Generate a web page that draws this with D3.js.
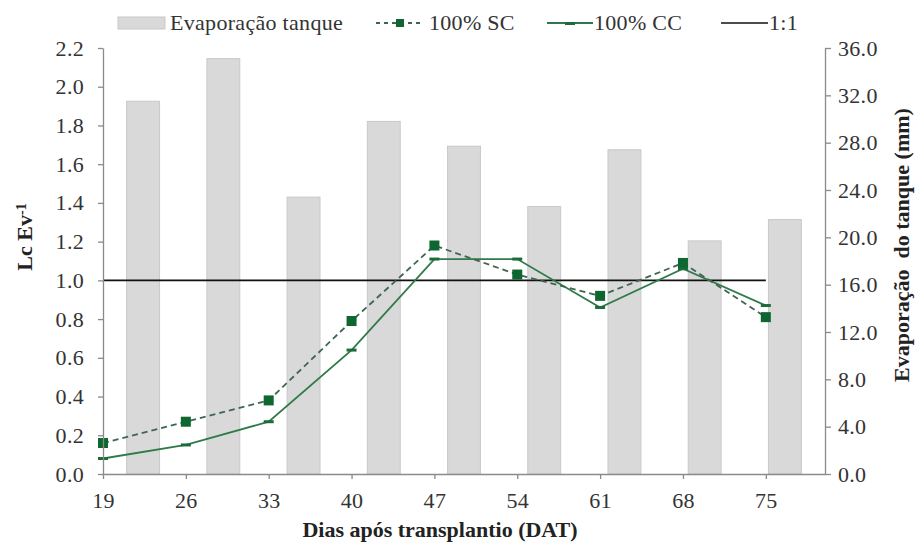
<!DOCTYPE html>
<html lang="pt">
<head>
<meta charset="utf-8">
<script src="https://cdn.jsdelivr.net/npm/d3@7"></script>
<style>
  body { margin: 0; background: #fff; }
</style>
</head>
<body>
<div id="chart"></div>
<script>
// dias após transplantio
var days = [19, 26, 33, 40, 47, 54, 61, 68, 75];
// evaporação do tanque (mm), eixo direito
var evap = [31.5, 35.1, 23.4, 29.8, 27.7, 22.6, 27.4, 19.7, 21.5];
// Lc Ev-1
var sc100 = [0.16, 0.27, 0.38, 0.79, 1.18, 1.03, 0.92, 1.09, 0.81];
var cc100 = [0.08, 0.15, 0.27, 0.64, 1.11, 1.11, 0.86, 1.06, 0.87];
var leftTicks = [0, 0.2, 0.4, 0.6, 0.8, 1.0, 1.2, 1.4, 1.6, 1.8, 2.0, 2.2];
var rightTicks = [0, 4, 8, 12, 16, 20, 24, 28, 32, 36];

var width = 920, height = 544;
var mLeft = 103, mRight = 825, mTop = 48, mBottom = 474;
var serif = "'Liberation Serif', 'Times New Roman', serif";

var svg = d3.select("#chart").append("svg")
    .attr("width", width)
    .attr("height", height)
    .attr("font-family", serif);

var xBand = d3.scaleBand().domain(days).range([mLeft, mRight])
    .paddingInner(0.59).paddingOuter(0.295);
var x = d3.scaleLinear().domain([19, 80]).range([mLeft, mRight]);
var y = d3.scaleLinear().domain([0, 2.2]).range([mBottom, mTop]);
var y2 = d3.scaleLinear().domain([0, 36]).range([mBottom, mTop]);

// bars
svg.selectAll("rect.bar")
    .data(days)
    .enter().append("rect")
    .attr("class", "bar")
    .attr("x", function(d) { return xBand(d); })
    .attr("width", xBand.bandwidth())
    .attr("y", function(d, i) { return y2(evap[i]); })
    .attr("height", function(d, i) { return mBottom - y2(evap[i]); })
    .attr("fill", "#d9d9d9")
    .attr("stroke", "#c8c8c8")
    .attr("stroke-width", 1);

// 1:1 line
svg.append("line")
    .attr("x1", x(19)).attr("x2", x(75))
    .attr("y1", y(1)).attr("y2", y(1))
    .attr("stroke", "#111").attr("stroke-width", 1.6);

var line = d3.line()
    .x(function(d, i) { return x(days[i]); })
    .y(function(d) { return y(d); });

// 100% CC
svg.append("path")
    .datum(cc100)
    .attr("d", line)
    .attr("fill", "none")
    .attr("stroke", "#2f7a4a")
    .attr("stroke-width", 1.8);
svg.selectAll("rect.cc")
    .data(cc100)
    .enter().append("rect")
    .attr("class", "cc")
    .attr("x", function(d, i) { return x(days[i]) - 5; })
    .attr("y", function(d) { return y(d) - 1.5; })
    .attr("width", 10).attr("height", 3)
    .attr("fill", "#1d6b3a");

// 100% SC
svg.append("path")
    .datum(sc100)
    .attr("d", line)
    .attr("fill", "none")
    .attr("stroke", "#3f6650")
    .attr("stroke-width", 1.8)
    .attr("stroke-dasharray", "6,4");
svg.selectAll("rect.sc")
    .data(sc100)
    .enter().append("rect")
    .attr("class", "sc")
    .attr("x", function(d, i) { return x(days[i]) - 5; })
    .attr("y", function(d) { return y(d) - 5; })
    .attr("width", 10).attr("height", 10)
    .attr("fill", "#0e6630");

// axes
var axisColor = "#8a8a8a";
var gx = svg.append("g")
    .attr("transform", "translate(0," + mBottom + ")")
    .call(d3.axisBottom(x).tickValues(days).tickSize(5).tickSizeOuter(0).tickFormat(d3.format("d")));
var gy = svg.append("g")
    .attr("transform", "translate(" + mLeft + ",0)")
    .call(d3.axisLeft(y).tickValues(leftTicks).tickSize(5).tickSizeOuter(0).tickFormat(d3.format(".1f")));
var gy2 = svg.append("g")
    .attr("transform", "translate(" + mRight + ",0)")
    .call(d3.axisRight(y2).tickValues(rightTicks).tickSize(6).tickSizeOuter(0).tickFormat(d3.format(".1f")));

[gx, gy, gy2].forEach(function(g) {
    g.attr("font-family", serif).attr("font-size", 22);
    g.selectAll("path.domain").attr("stroke", axisColor).attr("stroke-width", 1.3);
    g.selectAll(".tick line").attr("stroke", axisColor).attr("stroke-width", 1.3);
    g.selectAll(".tick text").attr("fill", "#333").attr("letter-spacing", 0.3);
});
gx.selectAll(".tick text").attr("y", 18);
gy.selectAll(".tick text").attr("x", -19);
gy2.selectAll(".tick text").attr("x", 13);

// axis titles
svg.append("text")
    .attr("x", 440).attr("y", 537)
    .attr("text-anchor", "middle")
    .attr("font-size", 22).attr("font-weight", "bold")
    .attr("fill", "#222")
    .text("Dias após transplantio (DAT)");

var lt = svg.append("text")
    .attr("transform", "translate(32,237) rotate(-90)")
    .attr("text-anchor", "middle")
    .attr("font-size", 22).attr("font-weight", "bold")
    .attr("fill", "#222");
lt.append("tspan").text("Lc Ev");
lt.append("tspan").attr("dy", "-0.4em").attr("font-size", 14).text("-1");

svg.append("text")
    .attr("transform", "translate(909,245) rotate(-90)")
    .attr("text-anchor", "middle")
    .attr("font-size", 22).attr("font-weight", "bold")
    .attr("fill", "#222")
    .attr("xml:space", "preserve")
    .text("Evaporação  do tanque (mm)");

// legend
var lg = svg.append("g").attr("font-size", 22).attr("fill", "#333").attr("letter-spacing", 0.3);
lg.append("rect").attr("x", 118).attr("y", 17).attr("width", 47).attr("height", 12)
    .attr("fill", "#d9d9d9").attr("stroke", "#c8c8c8");
lg.append("text").attr("x", 170).attr("y", 30).text("Evaporação tanque");

lg.append("line").attr("x1", 376).attr("x2", 424).attr("y1", 23).attr("y2", 23)
    .attr("stroke", "#3f6650").attr("stroke-width", 1.8).attr("stroke-dasharray", "4,4");
lg.append("rect").attr("x", 396).attr("y", 19).attr("width", 8).attr("height", 8).attr("fill", "#0e6630");
lg.append("text").attr("x", 429).attr("y", 30).text("100% SC");

lg.append("line").attr("x1", 547).attr("x2", 593).attr("y1", 23).attr("y2", 23)
    .attr("stroke", "#2f7a4a").attr("stroke-width", 1.8);
lg.append("rect").attr("x", 565).attr("y", 22).attr("width", 10).attr("height", 3).attr("fill", "#1d6b3a");
lg.append("text").attr("x", 594).attr("y", 30).text("100% CC");

lg.append("line").attr("x1", 721).attr("x2", 768).attr("y1", 23).attr("y2", 23)
    .attr("stroke", "#111").attr("stroke-width", 1.6);
lg.append("text").attr("x", 769).attr("y", 30).text("1:1");
</script>
</body>
</html>
